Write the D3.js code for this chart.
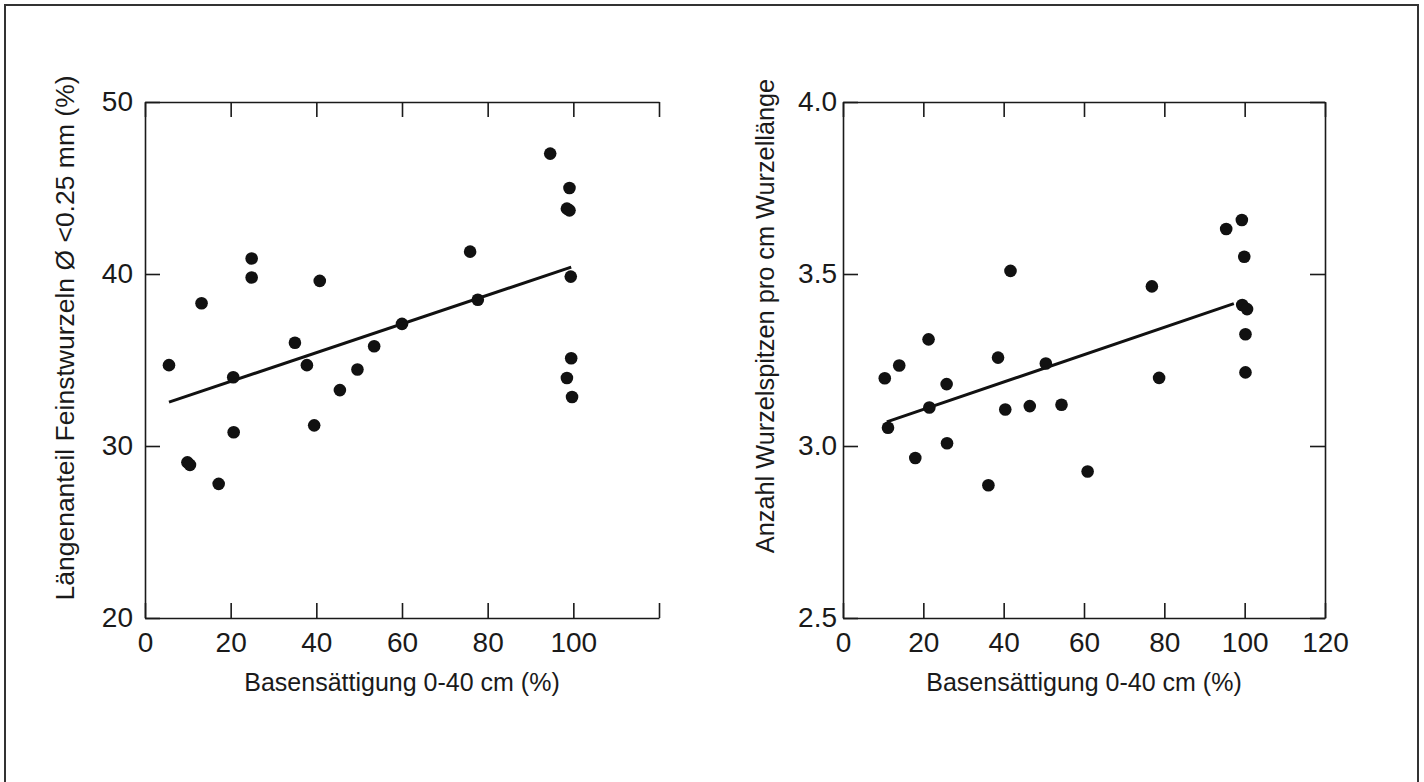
<!DOCTYPE html>
<html>
<head>
<meta charset="utf-8">
<script src="https://cdn.jsdelivr.net/npm/d3@7"></script>
<style>
  html, body { margin: 0; padding: 0; background: #fff; }
  svg { display: block; font-family: "Liberation Sans", Arial, sans-serif; }
</style>
</head>
<body>
<svg id="chart" width="1424" height="782"></svg>
<script>
// ---- Data ----
const xLabel = "Basensättigung 0-40 cm (%)";
const leftYLabel = "Längenanteil Feinstwurzeln Ø <0.25 mm (%)";
const rightYLabel = "Anzahl Wurzelspitzen pro cm Wurzellänge";

const leftX = [94.6, 99.1, 98.5, 99.1, 24.9, 24.9, 40.8, 13.2, 75.9, 99.4, 77.7, 60.0, 35.0, 53.5, 5.6, 37.8, 49.6, 99.5, 98.5, 20.6, 45.5, 99.7, 20.7, 39.5, 9.9, 10.5, 17.2];
const leftY = [47.0, 45.0, 43.8, 43.7, 40.9, 39.8, 39.6, 38.3, 41.3, 39.85, 38.5, 37.1, 36.0, 35.8, 34.7, 34.7, 34.45, 35.1, 33.95, 34.0, 33.25, 32.85, 30.8, 31.2, 29.05, 28.9, 27.8];
const leftFitX = [5.6, 99.5];
const leftFitY = [32.55, 40.4];

const rightX = [99.3, 95.4, 99.9, 41.7, 76.9, 99.4, 100.6, 100.2, 21.3, 14.0, 38.6, 50.5, 10.4, 25.8, 78.7, 100.2, 21.5, 11.2, 40.4, 46.5, 54.4, 25.9, 18.0, 36.2, 60.9];
const rightY = [3.657, 3.631, 3.55, 3.509, 3.464, 3.41, 3.398, 3.325, 3.31, 3.234, 3.257, 3.24, 3.197, 3.18, 3.198, 3.214, 3.112, 3.053, 3.106, 3.116, 3.12, 3.008, 2.965, 2.886, 2.926];
const rightFitX = [10.9, 97.3];
const rightFitY = [3.07, 3.414];

const xTicks = [0, 20, 40, 60, 80, 100, 120];
const leftXTickLabels = ["0", "20", "40", "60", "80", "100", ""];
const rightXTickLabels = ["0", "20", "40", "60", "80", "100", "120"];
const leftYTicks = [20, 30, 40, 50];
const leftYTickLabels = ["20", "30", "40", "50"];
const rightYTicks = [2.5, 3.0, 3.5, 4.0];
const rightYTickLabels = ["2.5", "3.0", "3.5", "4.0"];

// ---- Drawing ----
const svg = d3.select("#chart");
const ink = "#1a1a1a";

// outer frame
svg.append("rect")
  .attr("x", 5).attr("y", 5).attr("width", 1413).attr("height", 820)
  .attr("fill", "none").attr("stroke", "#333").attr("stroke-width", 2);

function panel(opts) {
  const {x0, x1, y0, y1, xs, ys, fitX, fitY, yDomain, yTicks, yTickLabels, xTickLabels,
         yLabel, yLabelX, yLabelY, yLabelSize, yPad, rightAxis} = opts;
  const x = d3.scaleLinear().domain([0, 120]).range([x0, x1]);
  const y = d3.scaleLinear().domain(yDomain).range([y1, y0]);
  const g = svg.append("g");
  const tick = 15;

  const bottom = g.append("g").attr("transform", `translate(0,${y1})`)
    .call(d3.axisBottom(x).tickValues(xTicks).tickSizeInner(-tick).tickSizeOuter(0).tickPadding(14)
      .tickFormat((d, i) => xTickLabels[i]));
  const top = g.append("g").attr("transform", `translate(0,${y0})`)
    .call(d3.axisTop(x).tickValues(xTicks).tickSizeInner(-tick).tickSizeOuter(0).tickFormat(""));
  const left = g.append("g").attr("transform", `translate(${x0},0)`)
    .call(d3.axisLeft(y).tickValues(yTicks).tickSizeInner(-tick).tickSizeOuter(0).tickPadding(yPad)
      .tickFormat((d, i) => yTickLabels[i]));
  const axes = [bottom, top, left];
  if (rightAxis) {
    const right = g.append("g").attr("transform", `translate(${x1},0)`)
      .call(d3.axisRight(y).tickValues(yTicks).tickSizeInner(-tick).tickSizeOuter(0).tickFormat(""));
    axes.push(right);
  }
  axes.forEach(a => {
    a.attr("font-family", null).attr("font-size", null);
    a.selectAll(".domain").attr("stroke", ink).attr("stroke-width", 1.6);
    a.selectAll(".tick line").attr("stroke", ink).attr("stroke-width", 1.6);
    a.selectAll(".tick text").style("font-size", "28px").attr("fill", ink);
  });

  g.append("g").selectAll("circle")
    .data(xs.map((v, i) => [v, ys[i]]))
    .join("circle")
    .attr("cx", d => x(d[0])).attr("cy", d => y(d[1]))
    .attr("r", 6.3).attr("fill", "#111");

  g.append("path")
    .datum(fitX.map((v, i) => [v, fitY[i]]))
    .attr("d", d3.line().x(d => x(d[0])).y(d => y(d[1])))
    .attr("stroke", "#111").attr("stroke-width", 3).attr("fill", "none");

  g.append("text")
    .attr("x", (x0 + x1) / 2).attr("y", 691)
    .attr("text-anchor", "middle").style("font-size", "25px").attr("fill", ink)
    .text(xLabel);
  g.append("text")
    .attr("transform", `translate(${yLabelX},${yLabelY}) rotate(-90)`)
    .attr("text-anchor", "middle").style("font-size", yLabelSize + "px").attr("fill", ink)
    .text(yLabel);
}

panel({
  x0: 145, x1: 659, y0: 102, y1: 618,
  xs: leftX, ys: leftY, fitX: leftFitX, fitY: leftFitY,
  yDomain: [20, 50], yTicks: leftYTicks, yTickLabels: leftYTickLabels,
  xTickLabels: leftXTickLabels,
  yLabel: leftYLabel, yLabelX: 74, yLabelY: 338, yLabelSize: 26.5, yPad: 12, rightAxis: false
});

panel({
  x0: 843, x1: 1325, y0: 102, y1: 618,
  xs: rightX, ys: rightY, fitX: rightFitX, fitY: rightFitY,
  yDomain: [2.5, 4.0], yTicks: rightYTicks, yTickLabels: rightYTickLabels,
  xTickLabels: rightXTickLabels,
  yLabel: rightYLabel, yLabelX: 774, yLabelY: 316, yLabelSize: 25.3, yPad: 6, rightAxis: true
});
</script>
</body>
</html>
